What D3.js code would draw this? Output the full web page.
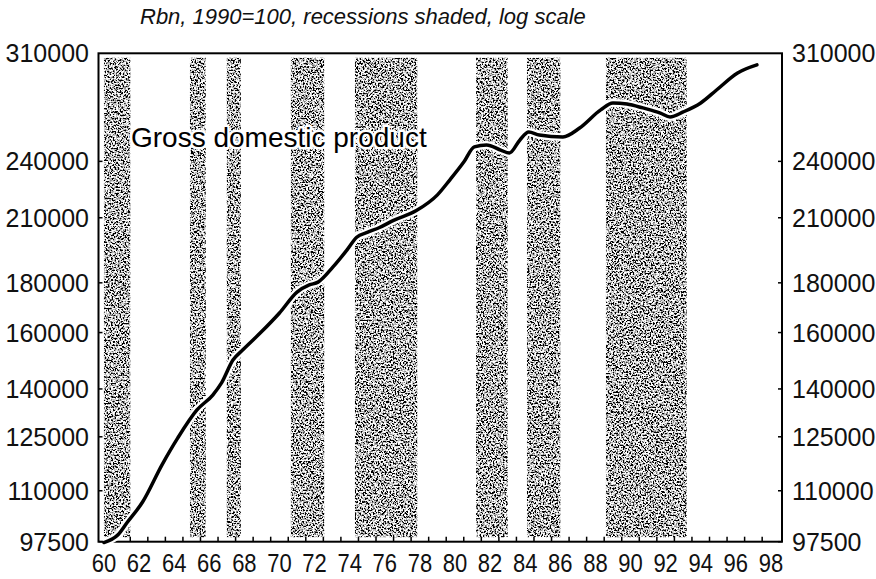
<!DOCTYPE html>
<html>
<head>
<meta charset="utf-8">
<script src="https://cdn.jsdelivr.net/npm/d3@7"></script>
<style>
    body { margin: 0; background: #fff; }
    svg { display: block; }
    .num { font-family: "Liberation Sans", Arial, sans-serif; font-size: 25px; fill: #111; }
</style>
</head>
<body>
<div id="chart"></div>
<script>
// GDP, Rbn 1990=100 (year as two digits, fractional where the curve turns)
var gdp_years = [60.0, 60.8, 61.3, 62.2, 63.3, 64.2, 65.3, 66.2, 66.7, 67.35, 67.9, 68.9, 70.0, 71.0, 71.7, 72.2,
    73.05, 73.85, 74.4, 75.0, 75.7, 76.5, 77.8, 79.0, 79.7, 80.5, 81.1, 81.8, 82.6, 83.1, 83.7, 84.2, 84.8,
    86.15, 87.1, 88.3, 89.0, 89.8, 90.7, 91.7, 92.25, 93.0, 94.0, 94.9, 96.1, 97.2];
var gdp_values = [97300, 99100, 101900, 107100, 116900, 124600, 133200, 138000, 142000, 149900, 153500, 159800,
    167600, 176100, 179100, 180300, 186900, 194600, 200500, 202800, 205200, 208700, 213600, 221700, 229600,
    239600, 248400, 249500, 246500, 244800, 252500, 257300, 255500, 254300, 259700, 271100, 275600, 274900,
    272400, 269100, 266600, 269800, 275600, 284200, 295900, 301600];

// recession periods (start, end)
var recession_start = [60.0, 64.9, 67.0, 70.65, 74.3, 81.2, 84.1, 88.6];
var recession_end = [61.5, 65.8, 67.8, 72.55, 77.85, 83.0, 86.0, 93.2];

var y_tick_values = [97500, 110000, 125000, 140000, 160000, 180000, 210000, 240000, 310000];
var x_label_years = d3.range(60, 99, 2);
var x_minor_years = d3.range(60.5, 98, 1);

var chart_width = 876, chart_height = 579;
var plot_left = 98.5, plot_right = 782, plot_top = 53.3, plot_bottom = 541.7;

var svg = d3.select('#chart').append('svg')
    .attr('width', chart_width)
    .attr('height', chart_height);

var x = d3.scaleLinear().domain([59.69, 98.63]).range([plot_left, plot_right]);
var y = d3.scaleLog().domain([97500, 310000]).range([plot_bottom, plot_top]);

// speckled grey like the printed shading
var defs = svg.append('defs');
var grain = defs.append('filter').attr('id', 'grain')
    .attr('x', 0).attr('y', 0).attr('width', 1).attr('height', 1);
grain.append('feTurbulence')
    .attr('type', 'fractalNoise')
    .attr('baseFrequency', 0.6)
    .attr('numOctaves', 2)
    .attr('seed', 7)
    .attr('result', 'noise');
grain.append('feColorMatrix')
    .attr('in', 'noise')
    .attr('type', 'matrix')
    .attr('values', '5 0 0 0 -2.0  5 0 0 0 -2.0  5 0 0 0 -2.0  0 0 0 0 1')
    .attr('result', 'dots');
grain.append('feComposite')
    .attr('in', 'dots')
    .attr('in2', 'SourceAlpha')
    .attr('operator', 'in');

svg.append('g').attr('class', 'recessions')
    .selectAll('rect')
    .data(recession_start)
    .join('rect')
    .attr('x', function (d) { return x(d); })
    .attr('width', function (d, i) { return x(recession_end[i]) - x(d); })
    .attr('y', plot_top + 4.5)
    .attr('height', plot_bottom - plot_top - 9)
    .attr('fill', '#888')
    .attr('filter', 'url(#grain)');

// title
svg.append('text')
    .attr('x', 140)
    .attr('y', 24)
    .attr('font-family', 'Liberation Sans, Arial, sans-serif')
    .attr('font-style', 'italic')
    .attr('font-size', '22px')
    .attr('fill', '#111')
    .text('Rbn, 1990=100, recessions shaded, log scale');

// frame
svg.append('rect')
    .attr('x', plot_left)
    .attr('y', plot_top)
    .attr('width', plot_right - plot_left)
    .attr('height', plot_bottom - plot_top)
    .attr('fill', 'none')
    .attr('stroke', '#000')
    .attr('stroke-width', 2);

// inward ticks on both sides
var y_ticks = y_tick_values.slice(0, -1);
svg.append('g').selectAll('line')
    .data(y_ticks)
    .join('line')
    .attr('x1', plot_left).attr('x2', plot_left + 4)
    .attr('y1', function (d) { return y(d); })
    .attr('y2', function (d) { return y(d); })
    .attr('stroke', '#000').attr('stroke-width', 1.5);
svg.append('g').selectAll('line')
    .data(y_ticks)
    .join('line')
    .attr('x1', plot_right).attr('x2', plot_right - 4)
    .attr('y1', function (d) { return y(d); })
    .attr('y2', function (d) { return y(d); })
    .attr('stroke', '#000').attr('stroke-width', 1.5);

function add_number(parent, px, py, anchor, label, squeeze) {
    parent.append('text')
        .attr('class', 'num')
        .attr('transform', 'translate(' + px + ',' + py + ') scale(' + squeeze + ',1)')
        .attr('dy', '0.36em')
        .attr('text-anchor', anchor)
        .text(label);
}

var g_left = svg.append('g');
var g_right = svg.append('g');
y_tick_values.forEach(function (d) {
    add_number(g_left, 89, y(d), 'end', d, 1);
    add_number(g_right, 792, y(d), 'start', d, 1);
});

// x axis
svg.append('g').selectAll('line')
    .data(x_minor_years)
    .join('line')
    .attr('x1', function (d) { return x(d); })
    .attr('x2', function (d) { return x(d); })
    .attr('y1', plot_bottom).attr('y2', plot_bottom - 5)
    .attr('stroke', '#000').attr('stroke-width', 1.5);
var g_bottom = svg.append('g');
x_label_years.forEach(function (d) {
    add_number(g_bottom, x(d), 563, 'middle', d, 0.88);
});

// GDP line, white halo under it
var line = d3.line()
    .x(function (d) { return x(d); })
    .y(function (d, i) { return y(gdp_values[i]); })
    .curve(d3.curveMonotoneX);

svg.append('path')
    .attr('d', line(gdp_years))
    .attr('fill', 'none')
    .attr('stroke', '#fff')
    .attr('stroke-width', 8)
    .attr('stroke-linejoin', 'round');
svg.append('path')
    .attr('d', line(gdp_years))
    .attr('fill', 'none')
    .attr('stroke', '#000')
    .attr('stroke-width', 3.5)
    .attr('stroke-linecap', 'round')
    .attr('stroke-linejoin', 'round');

svg.append('text')
    .attr('x', 131)
    .attr('y', 147)
    .attr('font-family', 'Liberation Sans, Arial, sans-serif')
    .attr('font-size', '28px')
    .attr('fill', '#000')
    .attr('stroke', '#fff')
    .attr('stroke-width', 5)
    .attr('stroke-linejoin', 'round')
    .attr('paint-order', 'stroke')
    .text('Gross domestic product');
</script>
</body>
</html>
